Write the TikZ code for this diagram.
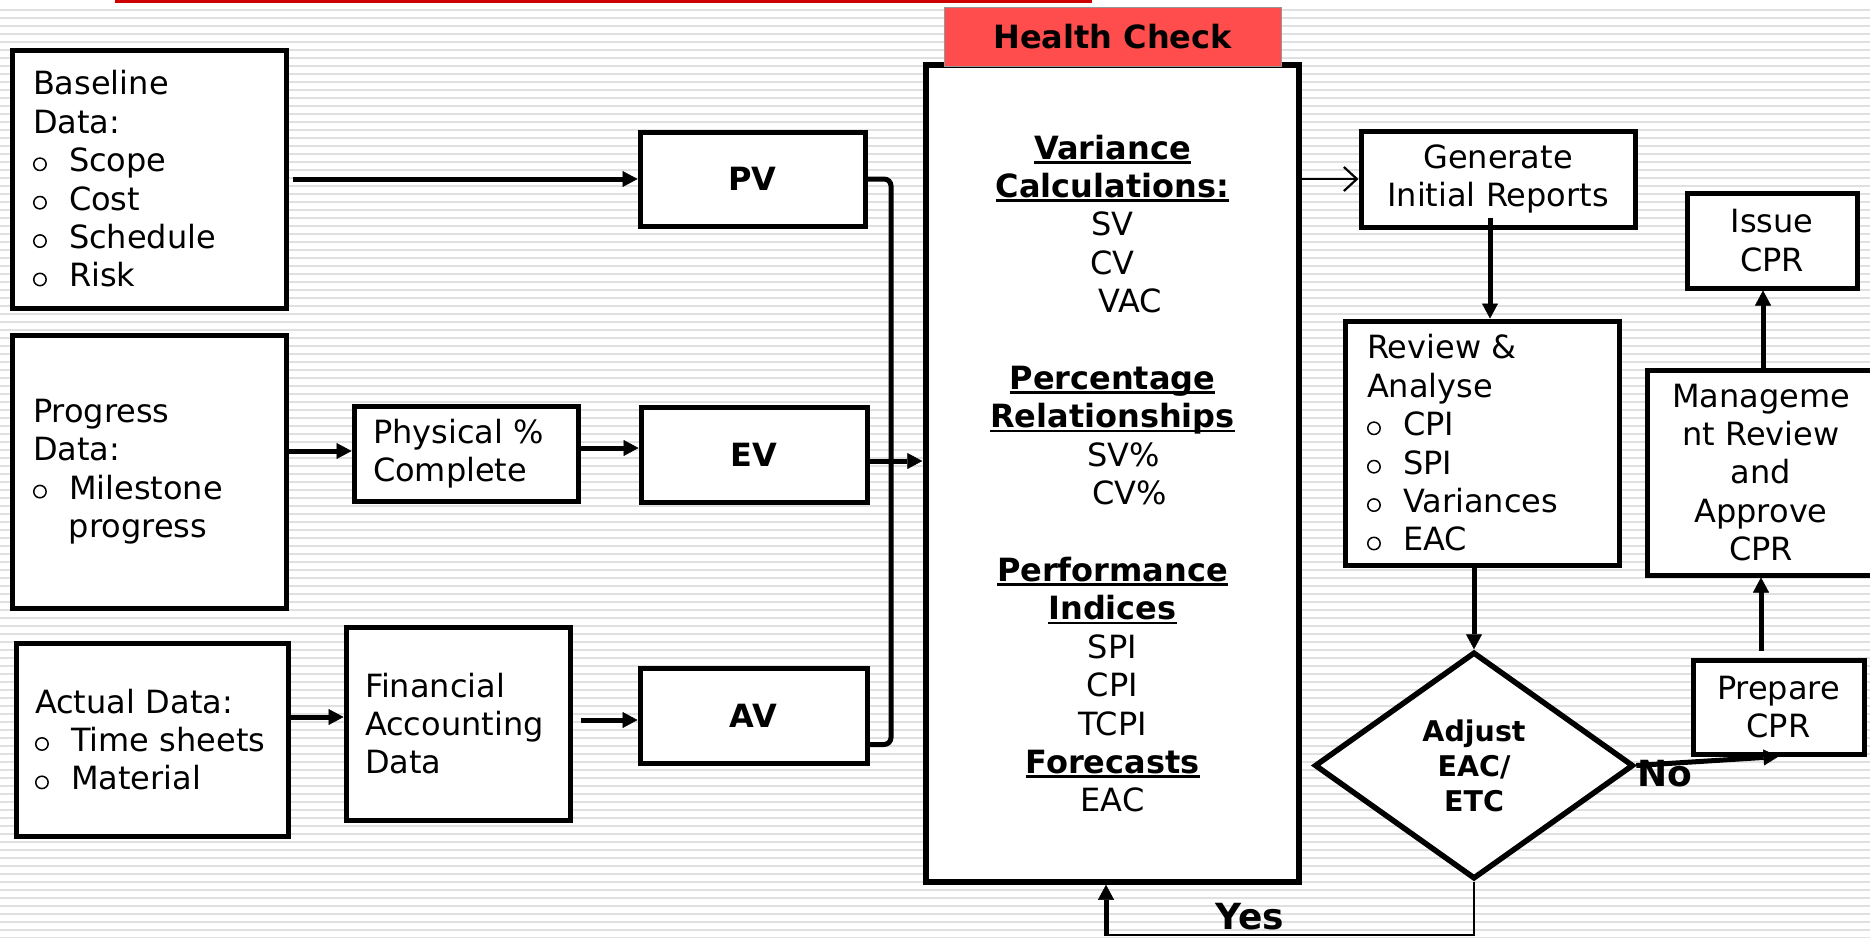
\documentclass[tikz,border=0pt]{standalone}
\usepackage{fontspec}
\setmainfont{DejaVu Sans}
\usetikzlibrary{arrows.meta,shapes.geometric,calc}
\definecolor{stripegray}{RGB}{224,224,224}
\definecolor{topred}{RGB}{204,0,0}
\definecolor{hcred}{RGB}{255,76,76}
\definecolor{hcedge}{RGB}{150,150,150}

% hollow bullet, bold underlined heading
\newcommand\bul{\raisebox{0.5pt}{\tikz\draw[line width=1.5pt] (0,0) circle[radius=6.2pt];}}
\newcommand\bitem[1]{\makebox[36pt][l]{\bul}#1}
\newcommand\ulb[1]{\setbox0=\hbox{\bfseries #1}\rlap{\rule[-4.5pt]{\wd0}{2.8pt}}\box0}

\begin{document}
\begin{tikzpicture}[x=1pt,y=-1pt,
  every node/.style={font=\fontsize{32}{38.4}\selectfont},
  box/.style={draw, line width=5pt, fill=white, inner sep=0pt},
  lbox/.style={box, align=left},
  cbox/.style={box, align=center},
  arr/.style={line width=5pt, -{Triangle[length=15pt,width=16pt,line width=0.5pt]}},
  conn/.style={line width=5pt},
  thinconn/.style={line width=2.2pt},
  thinarr/.style={line width=2.2pt, -{Straight Barb[length=13pt,width=24pt,line width=2.2pt]}},
  stripe/.style={stripegray, line width=2.5pt},
  lbl/.style={font=\fontsize{36}{40}\selectfont\bfseries, inner sep=0pt}
]
\useasboundingbox (0,0) rectangle (1870,937);
\fill[white] (0,0) rectangle (1870,937);
\foreach \k in {0,...,116}
  \draw[stripe] (0,{10+8*\k}) -- (1870,{10+8*\k});
\fill[topred] (115,0) rectangle (1092,3);

% input data
\node[lbox, minimum width=274pt, minimum height=258pt, text width=232pt] (Base) at (149,179)
  {Baseline\\ Data:\\ \bitem{Scope}\\ \bitem{Cost}\\ \bitem{Schedule}\\ \bitem{Risk}};
\node[lbox, minimum width=274pt, minimum height=273pt, text width=232pt] (Prog) at (149,471.5)
  {Progress\\ Data:\\ \bitem{Milestone}\\ \hspace*{36pt}progress};
\node[lbox, minimum width=272pt, minimum height=193pt, text width=234pt] (Act) at (152,739.5)
  {Actual Data:\\ \bitem{Time~sheets}\\ \bitem{Material}};

\node[lbox, minimum width=224pt, minimum height=95pt, text width=186pt] (Phys) at (466,453.5)
  {Physical~\%\\ Complete};
\node[lbox, minimum width=224pt, minimum height=193pt, text width=186pt] (Fin) at (458,723.5)
  {Financial\\ Accounting\\ Data};

\node[cbox, minimum width=225pt, minimum height=94pt, font=\fontsize{32}{38.4}\selectfont\bfseries] (PV) at (752.5,179) {PV};
\node[cbox, minimum width=226pt, minimum height=95pt, font=\fontsize{32}{38.4}\selectfont\bfseries] (EV) at (754,454.5) {EV};
\node[cbox, minimum width=227pt, minimum height=95pt, font=\fontsize{32}{38.4}\selectfont\bfseries] (AV) at (753.5,715.5) {AV};

% health check
\node[cbox, line width=5.5pt, minimum width=373pt, minimum height=817pt] (Health) at (1112.5,473.5)
  {\ulb{Variance}\\ \ulb{Calculations:}\\ SV\\ CV\\ \hspace*{36pt}VAC\\ \mbox{}\\
   \ulb{Percentage}\\ \ulb{Relationships}\\ \hspace*{22pt}SV\%\\ \hspace*{34pt}CV\%\\ \mbox{}\\
   \ulb{Performance}\\ \ulb{Indices}\\ SPI\\ CPI\\ TCPI\\ \ulb{Forecasts}\\ EAC};
\node[draw=hcedge, line width=1pt, fill=hcred, minimum width=337pt, minimum height=59pt,
      inner sep=0pt, font=\fontsize{32}{38.4}\selectfont\bfseries] (Header) at (1112.5,36.5) {Health Check};

% reporting
\node[cbox, minimum width=274pt, minimum height=96pt] (Gen) at (1498,179) {Generate\\ Initial Reports};
\node[lbox, minimum width=274pt, minimum height=244pt, text width=230pt] (Rev) at (1482,443)
  {Review \&\\ Analyse\\ \bitem{CPI}\\ \bitem{SPI}\\ \bitem{Variances}\\ \bitem{EAC}};
\node[diamond, draw, line width=5.5pt, fill=white, inner sep=0pt, aspect=1.4,
      minimum width=319pt, minimum height=227pt, align=center,
      font=\fontsize{28.5}{35}\selectfont\bfseries] (Dia) at (1474,765.5) {Adjust\\ EAC/\\ ETC};
\node[cbox, minimum width=171pt, minimum height=94pt] (Prep) at (1778.5,707) {Prepare\\ CPR};
\node[cbox, minimum width=228pt, minimum height=205pt] (Mgmt) at (1761,472.5)
  {Manageme\\ nt Review\\ and\\ Approve\\ CPR};
\node[cbox, minimum width=170pt, minimum height=95pt] (Issue) at (1772,240.5) {Issue\\ CPR};

% connectors
\coordinate (join) at (891,461);
\coordinate (yesturn) at (1106,935);
\coordinate (genout) at ($(Gen.south)+(-8,-12)$);
\coordinate (prepout) at ($(Prep.north -| Mgmt.south)+(0,-7)$);

\draw[arr] ($(Base.east)+(4,0)$) -- (PV.west);
\draw[arr] (Prog.east |- 0,451) -- (Phys.west |- 0,451);
\draw[arr] (Phys.east |- 0,448) -- (EV.west |- 0,448);
\draw[arr] (Act.east |- 0,717) -- (Fin.west |- 0,717);
\draw[arr] ($(Fin.east |- 0,720)+(8,0)$) -- (AV.west |- 0,720);

\draw[conn, rounded corners=7pt] (PV.east) -| (join);
\draw[conn, rounded corners=7pt] ($(AV.south east)+(0,-21)$) -| (join);
\draw[arr] (EV.east |- join) -- ($(join -| Health.west)+(-1,0)$);

\draw[thinarr] (Health.east |- Gen.west) -- (Gen.west);
\draw[arr] (genout) -- (genout |- Rev.north);
\draw[arr] (Rev.south -| Dia.north) -- (Dia.north);
\draw[arr] (Dia.east) -- (Prep.south);
\draw[arr] (prepout) -- (Mgmt.south);
\draw[arr] (Mgmt.north -| 1763,0) -- (Issue.south -| 1763,0);

\draw[thinconn] (Dia.south) |- (yesturn);
\draw[arr] ($(yesturn)+(0,1)$) -- (yesturn |- Health.south);

\node[lbl] (No) at (1665,774) {No};
\node[lbl] (Yes) at (1250,917) {Yes};
\end{tikzpicture}
\end{document}
